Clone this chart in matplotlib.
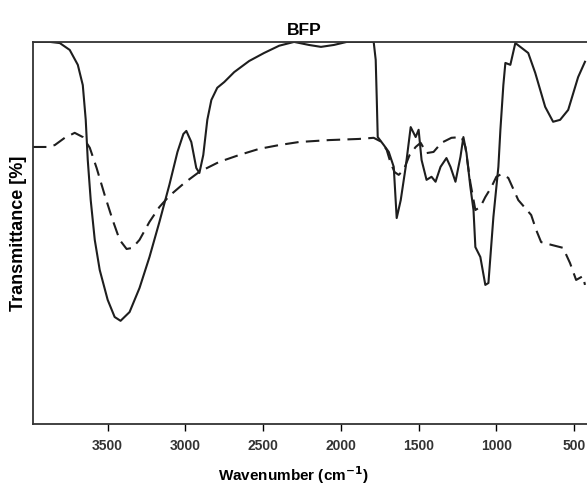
import matplotlib
matplotlib.use("Agg")
import matplotlib.pyplot as plt

plt.rcParams["font.family"] = ["Liberation Sans", "DejaVu Sans"]

# solid trace (wavenumber cm-1, transmittance %)
solid_wn = [3981, 3872, 3808, 3744, 3692, 3660, 3641, 3628, 3609, 3583, 3551, 3500,
            3455, 3417, 3359, 3295, 3231, 3167, 3103, 3051, 3013, 2994, 2962, 2930,
            2910, 2885, 2859, 2833, 2795, 2750, 2686, 2590, 2494, 2397, 2301, 2205,
            2128, 2045, 1962, 1821, 1789, 1776, 1769, 1763, 1724, 1692, 1660, 1641,
            1615, 1583, 1551, 1519, 1500, 1481, 1449, 1417, 1391, 1359, 1321, 1295,
            1263, 1231, 1212, 1192, 1167, 1147, 1135, 1103, 1071, 1051, 1019, 987,
            974, 955, 942, 910, 878, 846, 795, 750, 686, 635, 590, 538, 474, 430]
solid_t = [100, 100, 99.7, 97.9, 94.0, 88.7, 79.6, 69.1, 58.6, 48.2, 40.3, 32.5,
           28.0, 27.0, 29.3, 35.6, 43.7, 52.9, 62.6, 71.2, 75.9, 76.7, 73.8, 67.0,
           65.7, 70.4, 79.6, 84.8, 88.0, 89.5, 92.1, 95.0, 97.1, 99.0, 100, 99.2,
           98.7, 99.2, 100, 100, 100, 95.3, 84.8, 75.1, 73.0, 71.2, 67.3, 53.9,
           58.6, 67.3, 77.7, 75.1, 77.0, 69.1, 63.9, 64.7, 63.4, 67.3, 69.6, 67.3,
           63.4, 69.9, 75.1, 70.9, 62.0, 56.0, 46.3, 43.7, 36.4, 36.9, 54.2, 67.3,
           77.0, 88.7, 94.5, 94.0, 99.7, 98.7, 97.1, 91.9, 83.0, 79.1, 79.6, 82.2, 90.8, 94.8]

# dashed trace
dash_wn = [3981, 3885, 3840, 3776, 3712, 3660, 3615, 3571, 3519, 3468, 3423, 3378,
           3340, 3295, 3231, 3167, 3103, 3006, 2910, 2782, 2654, 2526, 2397, 2269,
           2077, 1885, 1789, 1737, 1705, 1680, 1654, 1628, 1596, 1558, 1519, 1487,
           1449, 1404, 1353, 1289, 1224, 1199, 1167, 1135, 1103, 1071, 1032, 1000,
           968, 923, 859, 776, 744, 712, 648, 571, 526, 487, 443, 430]
dash_t = [72.5, 72.5, 73.0, 74.9, 76.2, 75.1, 72.3, 67.0, 59.9, 53.4, 48.2, 45.8,
          46.1, 48.2, 52.9, 56.8, 59.7, 63.1, 66.0, 68.6, 70.4, 72.0, 73.0, 73.8,
          74.3, 74.6, 74.9, 73.8, 71.7, 68.3, 65.9, 65.2, 66.5, 70.4, 72.5, 73.6,
          70.9, 71.2, 73.6, 74.9, 75.1, 72.5, 63.1, 56.0, 56.8, 59.4, 62.0, 64.7,
          65.4, 64.4, 58.6, 54.7, 50.8, 47.6, 46.9, 46.1, 42.1, 37.7, 38.7, 36.4]

xticks = [3500, 3000, 2500, 2000, 1500, 1000, 500]

fig = plt.figure(figsize=(5.87, 4.93), dpi=100)
ax = fig.add_axes([0.056, 0.140, 0.944, 0.775])

ax.plot(solid_wn, solid_t, color="#1e1e1e", lw=1.5, solid_joinstyle="round")
ax.plot(dash_wn, dash_t, color="#1e1e1e", lw=1.5, dashes=(6.5, 3.5))

ax.set_xlim(3981, 417)
ax.set_ylim(0, 100)
ax.set_xticks(xticks)
ax.set_xticklabels([str(v) for v in xticks], fontsize=10, fontweight="bold", color="#333333")
ax.set_yticks([])
ax.tick_params(axis="x", direction="out", length=5, width=1, pad=6)
ax.spines["right"].set_visible(False)
for s in ("left", "top", "bottom"):
    ax.spines[s].set_linewidth(1.3)
    ax.spines[s].set_color("#333333")

ax.set_title("BFP", fontsize=12.5, fontweight="bold", pad=5, x=0.49)
ax.set_xlabel("Wavenumber (cm$^{\\mathbf{-1}}$)", fontsize=11, fontweight="bold", labelpad=8, x=0.47)
ax.set_ylabel("Transmittance [%]", fontsize=13, fontweight="bold", labelpad=4)

fig.savefig("out.png", dpi=100)
